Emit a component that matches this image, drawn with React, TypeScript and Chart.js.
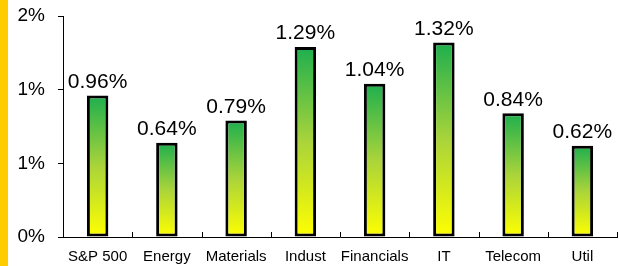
import React, { useEffect, useRef } from "react";
import { Chart, registerables } from "chart.js";

Chart.register(...registerables);

const categories = ["S&P 500", "Energy", "Materials", "Indust", "Financials", "IT", "Telecom", "Util"];
const values = [0.96, 0.64, 0.79, 1.29, 1.04, 1.32, 0.84, 0.62];
const yTicks = [0, 0.5, 1.0, 1.5];

const FONT = "'Liberation Sans', Arial, sans-serif";

const stripPlugin = {
  id: "strip",
  beforeDraw(chart: any) {
    const ctx = chart.ctx;
    ctx.save();
    ctx.fillStyle = "#ffffff";
    ctx.fillRect(0, 0, chart.width, chart.height);
    ctx.fillStyle = "#FFCC00";
    ctx.fillRect(0, 0, 8, chart.height);
    ctx.restore();
  },
};

const innerTicksPlugin = {
  id: "innerTicks",
  afterDatasetsDraw(chart: any) {
    const x = chart.scales.x;
    const y = chart.scales.y;
    const ctx = chart.ctx;
    const half = (x.getPixelForValue(1) - x.getPixelForValue(0)) / 2;
    const base = y.getPixelForValue(0);
    ctx.save();
    ctx.strokeStyle = "#000";
    ctx.lineWidth = 1;
    for (let i = 0; i <= categories.length; i++) {
      const px = Math.round(x.getPixelForValue(i) - half) + 0.5;
      ctx.beginPath();
      ctx.moveTo(px, base - 5);
      ctx.lineTo(px, base);
      ctx.stroke();
    }
    ctx.restore();
  },
};

const labelPlugin = {
  id: "barLabels",
  afterDatasetsDraw(chart: any) {
    const ctx = chart.ctx;
    const meta = chart.getDatasetMeta(0);
    ctx.save();
    ctx.fillStyle = "#000";
    ctx.font = `21px ${FONT}`;
    ctx.textAlign = "center";
    ctx.textBaseline = "bottom";
    meta.data.forEach((bar: any, i: number) => {
      ctx.fillText(values[i].toFixed(2) + "%", bar.x, bar.y - 3);
    });
    ctx.restore();
  },
};

export default function App() {
  const ref = useRef<HTMLCanvasElement>(null);
  useEffect(() => {
    document.body.style.margin = "0";
    const chart = new Chart(ref.current!, {
      type: "bar",
      data: {
        labels: categories,
        datasets: [
          {
            data: values,
            borderColor: "#000",
            borderWidth: 3,
            borderSkipped: false,
            categoryPercentage: 1,
            barPercentage: 0.31,
            backgroundColor: (c: any) => {
              const chart = c.chart;
              const ys = chart.scales && chart.scales.y;
              if (!ys || c.dataIndex === undefined) return "#88cc44";
              const v = values[c.dataIndex];
              const top = ys.getPixelForValue(v);
              const bottom = ys.getPixelForValue(0);
              if (!isFinite(top) || !isFinite(bottom) || top === bottom) return "#88cc44";
              const g = chart.ctx.createLinearGradient(0, top, 0, bottom);
              g.addColorStop(0, "#1DAF4E");
              g.addColorStop(0.5, "#AAD43A");
              g.addColorStop(1, "#FFFF00");
              return g;
            },
          },
        ],
      },
      options: {
        animation: false,
        responsive: false,
        layout: { padding: { left: 0, right: 2, top: 16, bottom: 0 } },
        plugins: { legend: { display: false }, tooltip: { enabled: false } },
        scales: {
          x: {
            grid: { display: false },
            border: { display: true, color: "#000", width: 1 },
            ticks: {
              color: "#000",
              font: { family: FONT, size: 15 },
              padding: 3,
              maxRotation: 0,
              autoSkip: false,
            },
            afterFit: (s: any) => {
              s.height = 29;
              s.paddingLeft = 0;
              s.paddingRight = 0;
            },
          },
          y: {
            min: 0,
            max: 1.5,
            afterBuildTicks: (s: any) => {
              s.ticks = yTicks.map((v) => ({ value: v }));
            },
            grid: { display: true, drawOnChartArea: false, tickLength: 5, color: "#000" },
            border: { display: true, color: "#000", width: 1 },
            ticks: {
              color: "#000",
              font: { family: FONT, size: 19 },
              padding: 13,
              callback: (v: any) => Math.round(Number(v)) + "%",
            },
            afterFit: (s: any) => {
              s.width = 63;
              s.paddingTop = 0;
              s.paddingBottom = 0;
            },
          },
        },
      },
      plugins: [stripPlugin, innerTicksPlugin, labelPlugin],
    });
    return () => chart.destroy();
  }, []);
  return <canvas ref={ref} width={619} height={266} style={{ display: "block" }} />;
}
